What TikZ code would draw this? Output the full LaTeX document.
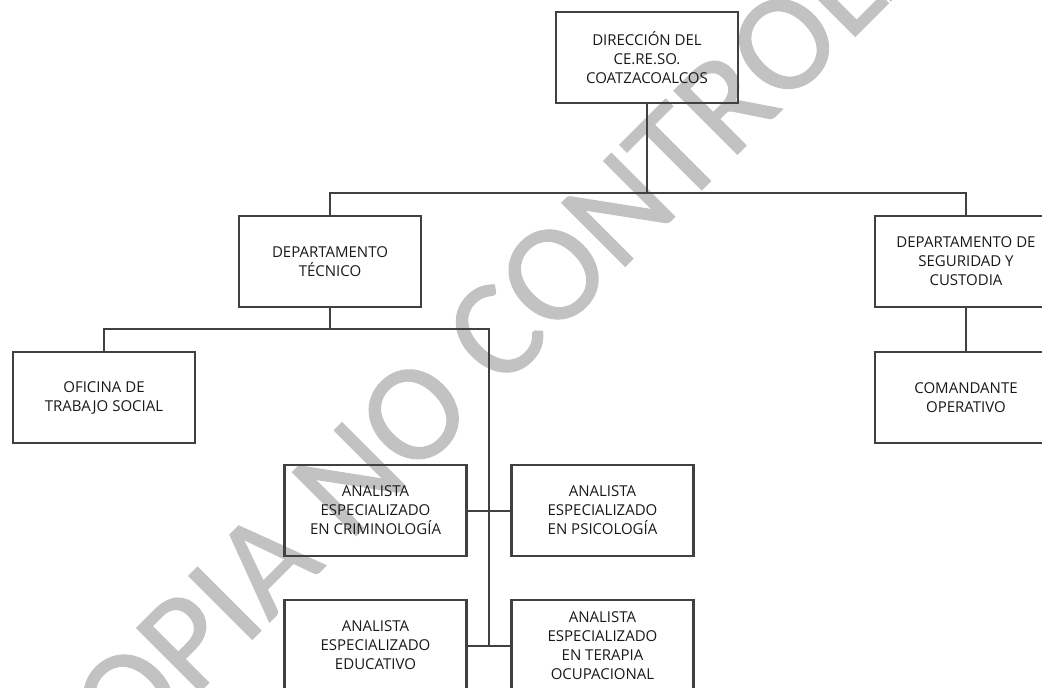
\documentclass[tikz,border=0pt]{standalone}
\usepackage{fontspec}
\setmainfont{Open Sans}
\newfontfamily\marcafont{Carlito}[FakeBold=0.7]
\usetikzlibrary{positioning}

\tikzset{
  cargo/.style={draw=black!75, line width=2.4pt, minimum width=182pt, minimum height=91pt,
    inner sep=0pt, outer sep=0pt, align=center, text=black!90, font=\fontsize{15}{19}\selectfont},
  linea/.style={draw=black!75, line width=2pt}
}

\begin{document}
\begin{tikzpicture}[x=1pt,y=-1pt]
      \useasboundingbox (0,0) rectangle (1042,688);
      \node (marca) [rotate=45, text=black!24, font=\marcafont\fontsize{140}{140}\selectfont] at (538,290) {COPIA NO CONTROLADA};

      \node (dir) [cargo] at (647,57.5) {DIRECCIÓN DEL\\CE.RE.SO.\\COATZACOALCOS};
      \node (tec) [cargo, below = 113pt of dir, xshift=-317pt] {DEPARTAMENTO\\TÉCNICO};
      \node (seg) [cargo, below = 113pt of dir, xshift=319pt] {DEPARTAMENTO DE\\SEGURIDAD Y\\CUSTODIA};
      \node (ofi) [cargo, below = 45pt of tec, xshift=-226pt] {OFICINA DE\\TRABAJO SOCIAL};
      \node (com) [cargo, below = 45pt of seg] {COMANDANTE\\OPERATIVO};
      \node (cri) [cargo, below = 158pt of tec, xshift=45.5pt] {ANALISTA\\ESPECIALIZADO\\EN CRIMINOLOGÍA};
      \node (psi) [cargo, right = 45pt of cri] {ANALISTA\\ESPECIALIZADO\\EN PSICOLOGÍA};
      \node (edu) [cargo, below = 44pt of cri] {ANALISTA\\ESPECIALIZADO\\EDUCATIVO};
      \node (ter) [cargo, right = 45pt of edu] {ANALISTA\\ESPECIALIZADO\\EN TERAPIA\\OCUPACIONAL};

      \path[linea]
        (dir.south) -- ++(0,-90pt) -| (tec.north)
        (dir.south) -- ++(0,-90pt) -| (seg.north)
        (seg.south) -- (com.north)
        (tec.south) -- ++(0,-22pt) -| (ofi.north)
        (cri.east) -- (psi.west)
        (edu.east) -- (ter.west) coordinate[midway] (eje)
        (tec.south) -- ++(0,-22pt) -| (eje);
    \end{tikzpicture}
\end{document}
